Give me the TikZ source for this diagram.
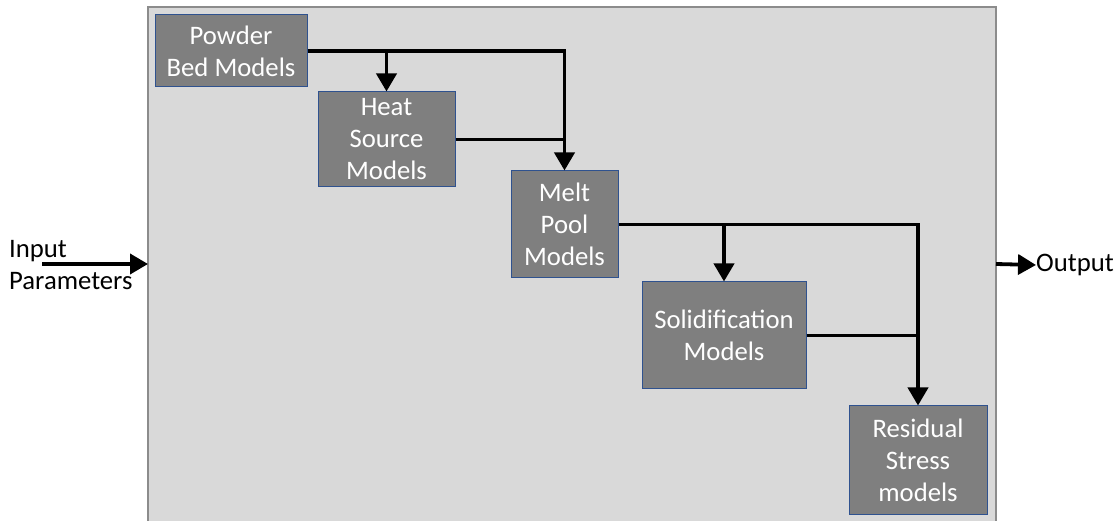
\documentclass[tikz,border=0pt]{standalone}
\usepackage{fontspec}
\setmainfont{Carlito}
\usetikzlibrary{arrows.meta}
\definecolor{bgfill}{HTML}{D9D9D9}
\definecolor{bgline}{HTML}{8C8C8C}
\definecolor{boxfill}{HTML}{7F7F7F}
\definecolor{boxline}{HTML}{2F528F}
\tikzset{
  modelbox/.style={draw=boxline, line width=1pt, fill=boxfill, text=white, align=center, inner sep=0pt,
    font=\fontsize{26.7}{32}\selectfont},
  conn/.style={line width=3.8pt, draw=black},
  tip/.style={-{Triangle[width=20pt,length=18pt]}},
  plain/.style={font=\fontsize{26.7}{32}\selectfont, inner sep=0pt}
}
\begin{document}
\begin{tikzpicture}[x=1pt,y=-1pt]
\useasboundingbox (0,0) rectangle (1120,521);
\draw[fill=bgfill, draw=bgline, line width=1.5pt] (148,7) rectangle (996,545);
\coordinate (bgW) at (148,264);
\coordinate (bgE) at (996,264);

\node[modelbox, minimum width=152pt, minimum height=72pt] (pb) at (231,51) {Powder\\Bed Models};
\node[modelbox, minimum width=137pt, minimum height=95pt] (hs) at (386.5,139.5) {Heat\\Source\\Models};
\node[modelbox, minimum width=107pt, minimum height=107pt] (mp) at (564.5,224.5) {Melt\\Pool\\Models};
\node[modelbox, minimum width=164pt, minimum height=107pt] (ss) at (724,335.5) {Solidification\\Models};
\node[modelbox, minimum width=138pt, minimum height=108pt] (rs) at (918,460) {Residual\\Stress\\models};

\draw[conn, tip] (pb.east) -| (mp.north);
\draw[conn, tip] (pb.east -| hs.north) -- (hs.north);
\draw[conn] (hs.east) -- (hs.east -| mp.north);
\draw[conn, tip] (mp.east) -| (rs.north);
\draw[conn, tip] (mp.east -| ss.north) -- (ss.north);
\draw[conn] (ss.east) -- (ss.east -| rs.north);

\node[plain, anchor=west, align=left] (in) at (9,265) {Input\\Parameters};
\coordinate (inS) at (42,264);
\draw[conn, tip] (inS) -- (bgW);

\node[plain, anchor=west] (out) at (1036,265) {Output};
\draw[conn, tip] (bgE) -- (out.west);
\end{tikzpicture}
\end{document}
